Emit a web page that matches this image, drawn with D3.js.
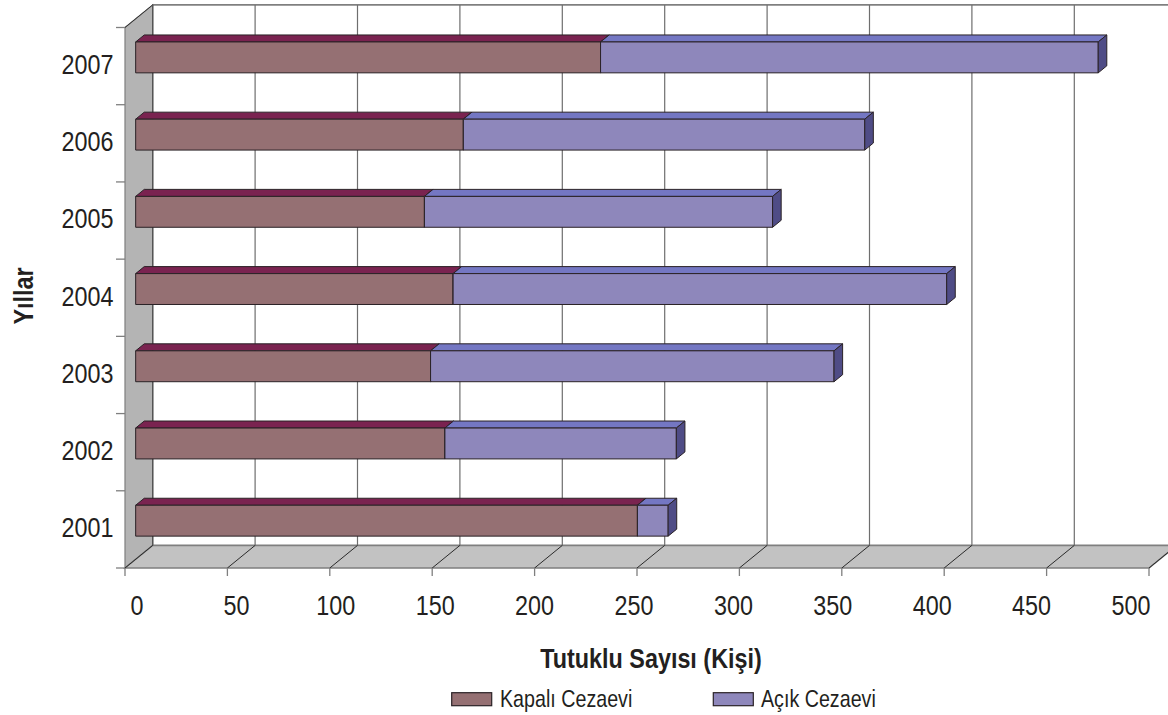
<!DOCTYPE html>
<html><head><meta charset="utf-8">
<script src="https://cdn.jsdelivr.net/npm/d3@7"></script>
<style>
body{margin:0;background:#fff}
svg{display:block}
text{font-family:"Liberation Sans",Arial,sans-serif;fill:#231f20}
</style></head>
<body>
<svg id="c" width="1168" height="715"></svg>
<script>
// ---- data ----
const years = ["2001","2002","2003","2004","2005","2006","2007"];
const kapali = [245,151,144,155,141,160,227];
const acik   = [15,113,197,241,170,196,243];
const seriesNames = ["Kapalı Cezaevi","Açık Cezaevi"];
const xTicks = [0,50,100,150,200,250,300,350,400,450,500];
const xTitle = "Tutuklu Sayısı (Kişi)";
const yTitle = "Yıllar";

// ---- style ----
const colors = {
  k:{front:"#957073",top:"#7a2350",side:"#5a1a3a"},
  a:{front:"#8e87bb",top:"#7477c3",side:"#4f4c86"}
};
const svg = d3.select("#c");
const yTop = 27.5, y0 = 568;
const D = [27.7,-22.6];          // depth vector of the 3D box
const fo = 0.385, bo = 0.695;    // bar front/back depth fractions
const SX = 0.82;                  // narrow font compression

const x  = d3.scaleLinear().domain([0,500]).range([125,1149]);
const xl = d3.scaleLinear().domain([0,500]).range([137,1131]);
const y  = d3.scaleBand().domain(years.slice().reverse()).range([yTop,y0]).paddingInner(0.6).paddingOuter(0.3);
const bw = y.bandwidth(), step = y.step();

const X0 = x(0), X1 = x(500);
// left wall
svg.append("polygon")
  .attr("points",[[X0,yTop],[X0+D[0],yTop+D[1]],[X0+D[0],y0+D[1]],[X0,y0]].map(p=>p.join(",")).join(" "))
  .attr("fill","#b4b4b4").attr("stroke","#7f7f7f").attr("stroke-width",1.2);
// back wall
svg.append("rect").attr("x",X0+D[0]).attr("y",yTop+D[1]).attr("width",X1-X0).attr("height",y0-yTop)
  .attr("fill","#fff").attr("stroke","#555").attr("stroke-width",1.3);
// floor
svg.append("polygon")
  .attr("points",[[X0,y0],[X1,y0],[X1+D[0],y0+D[1]],[X0+D[0],y0+D[1]]].map(p=>p.join(",")).join(" "))
  .attr("fill","#c2c2c2").attr("stroke","#7f7f7f").attr("stroke-width",1.5);
// wall top diagonal
svg.append("line").attr("x1",X0).attr("y1",yTop).attr("x2",X0+D[0]).attr("y2",yTop+D[1]).attr("stroke","#333").attr("stroke-width",1);
// gridlines on back wall
svg.append("g").selectAll("line").data(xTicks.slice(1)).join("line")
  .attr("x1",d=>x(d)+D[0]).attr("x2",d=>x(d)+D[0]).attr("y1",yTop+D[1]).attr("y2",y0+D[1])
  .attr("stroke","#6e6e6e").attr("stroke-width",1.2);
svg.append("line").attr("x1",X0+D[0]).attr("x2",X0+D[0]).attr("y1",yTop+D[1]).attr("y2",y0+D[1]).attr("stroke","#555").attr("stroke-width",1.2);
// floor diagonals
svg.append("g").selectAll("line").data(xTicks).join("line")
  .attr("x1",d=>x(d)).attr("y1",y0).attr("x2",d=>x(d)+D[0]).attr("y2",y0+D[1])
  .attr("stroke","#2a2a2a").attr("stroke-width",1);
// x ticks
svg.append("g").selectAll("line").data(xTicks).join("line")
  .attr("x1",d=>x(d)).attr("x2",d=>x(d)).attr("y1",y0).attr("y2",y0+8)
  .attr("stroke","#7f7f7f").attr("stroke-width",1.3);
// y ticks (category boundaries)
const yb = d3.range(years.length+1).map(i=>yTop+i*step);
svg.append("g").selectAll("line").data(yb).join("line")
  .attr("x1",X0-9).attr("x2",X0).attr("y1",d=>d).attr("y2",d=>d)
  .attr("stroke","#7f7f7f").attr("stroke-width",1.3);

// bars
const bars = svg.append("g");
years.forEach((yr,i)=>{
  const segs = [[0,kapali[i],colors.k],[kapali[i],kapali[i]+acik[i],colors.a]];
  const yf = y(yr)+fo*D[1], yk = y(yr)+bo*D[1];
  segs.forEach(([s,e,c])=>{
    const xs = x(s)+fo*D[0], xe = x(e)+fo*D[0];
    const xsb = x(s)+bo*D[0], xeb = x(e)+bo*D[0];
    const g = bars.append("g").attr("stroke","#2a2226").attr("stroke-width",1).attr("stroke-linejoin","round");
    g.append("polygon").attr("points",[[xs,yf],[xe,yf],[xeb,yk],[xsb,yk]].map(p=>p.join(",")).join(" ")).attr("fill",c.top);
    g.append("rect").attr("x",xs).attr("y",yf).attr("width",xe-xs).attr("height",bw).attr("fill",c.front);
    g.append("polygon").attr("points",[[xe,yf],[xeb,yk],[xeb,yk+bw],[xe,yf+bw]].map(p=>p.join(",")).join(" ")).attr("fill",c.side);
  });
});

// text helper
function txt(px,py,str,size,anchor,weight,rot){
  return svg.append("text")
    .attr("transform",`translate(${px},${py})`+(rot?` rotate(${rot})`:"")+` scale(${SX},1)`)
    .attr("text-anchor",anchor).style("font-size",size+"px").style("font-weight",weight||"normal").text(str);
}
// y labels
years.forEach(yr=>{ txt(113.5, y(yr)+bw/2+7.8, yr, 28.5, "end"); });
// x labels
xTicks.forEach(v=>{ txt(xl(v), 615, String(v), 28.5, "middle"); });
// axis titles
txt(651, 668.3, xTitle, 28.5, "middle", "bold");
txt(33.3, 296, yTitle, 28.5, "middle", "bold", -90);
// legend
const leg = [[451.7,500,colors.k.front],[713.3,761,colors.a.front]];
leg.forEach(([rx,tx,c],i)=>{
  svg.append("rect").attr("x",rx).attr("y",692.7).attr("width",40).attr("height",13).attr("fill",c).attr("stroke","#2a2226").attr("stroke-width",1.2);
  txt(tx,706.7,seriesNames[i],24,"start");
});
</script>
</body></html>
